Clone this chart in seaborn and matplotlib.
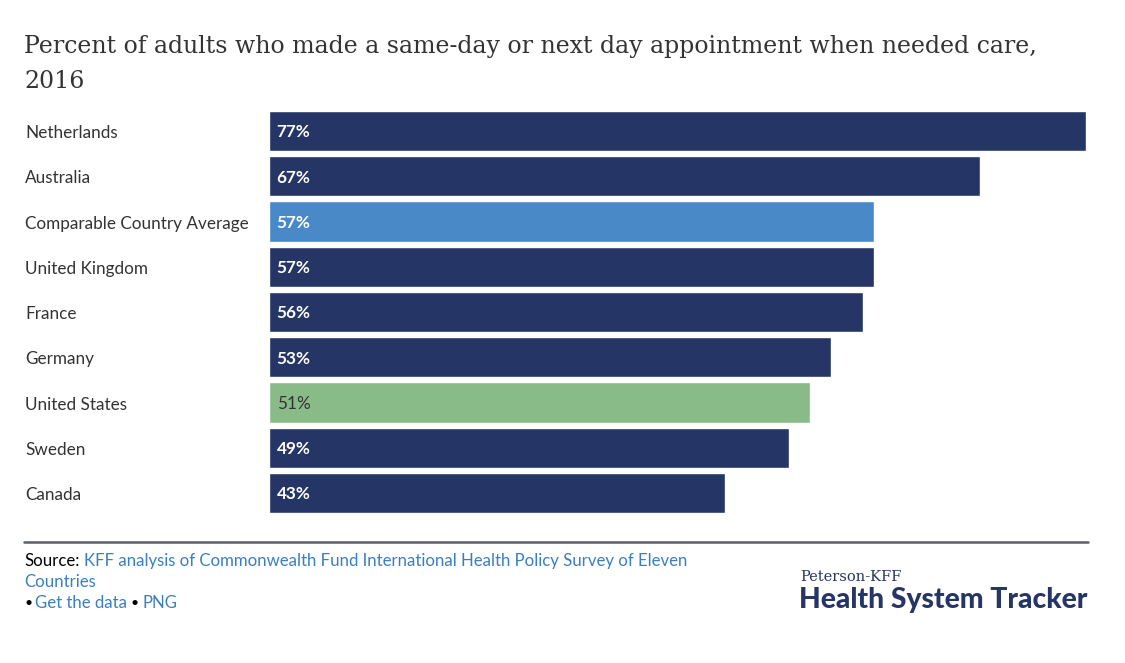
import seaborn as sns
import matplotlib.pyplot as plt
import pandas as pd

# data
countries = ["Netherlands", "Australia", "Comparable Country Average", "United Kingdom",
             "France", "Germany", "United States", "Sweden", "Canada"]
values = [77, 67, 57, 57, 56, 53, 51, 49, 43]
navy = "#253565"
bar_colors = [navy, navy, "#4a89c8", navy, navy, navy, "#89bb88", navy, navy]
label_colors = ["white"] * 6 + ["#333333"] + ["white"] * 2

df = pd.DataFrame({"Country": countries, "Percent": values})

sns.set_style("white")
plt.rcParams["font.family"] = ["Lato", "DejaVu Sans"]

W, H = 1125, 663
fig = plt.figure(figsize=(W / 100, H / 100), dpi=100)
ax = fig.add_axes([269 / W, 1 - 515.6 / H, (1086 - 269) / W, (515.6 - 108.4) / H])

sns.barplot(data=df, x="Percent", y="Country", hue="Country", palette=bar_colors,
            legend=False, width=0.885, ax=ax, saturation=1)
ax.set_xlim(0, 77)
ax.set_ylim(8.5, -0.5)
ax.set_xlabel("")
ax.set_ylabel("")
ax.set_xticks([])
ax.set_yticks([])
for s in ax.spines.values():
    s.set_visible(False)

# value labels and category labels
for i, (c, v) in enumerate(zip(countries, values)):
    ax.text(0.72, i + 0.03, f"{v}%", color=label_colors[i], fontsize=12.3, va="center",
            ha="left", fontweight="bold" if label_colors[i] == "white" else "normal")
    fig.text(25 / W, 1 - (133 + i * 45.25) / H, c, fontsize=12.3, color="#333333",
             va="center", ha="left")

# title
title_kw = dict(fontsize=17, family="DejaVu Serif", color="#333333", va="center", ha="left")
fig.text(24 / W, 1 - 47 / H,
         "Percent of adults who made a same-day or next day appointment when needed care,",
         **title_kw)
fig.text(24 / W, 1 - 81 / H, "2016", **title_kw)

# separator line
fig.add_artist(plt.Line2D([24 / W, 1088 / W], [1 - 542 / H, 1 - 542 / H],
                          color="#5a5f6a", linewidth=1.8))

# source
blue = "#3a7fc1"
fs = 12.05
fig.text(24 / W, 1 - 561 / H, "Source:", fontsize=fs, color="black", va="center")
fig.text(84 / W, 1 - 561 / H,
         "KFF analysis of Commonwealth Fund International Health Policy Survey of Eleven",
         fontsize=fs, color=blue, va="center")
fig.text(24 / W, 1 - 582 / H, "Countries", fontsize=fs, color=blue, va="center")
fig.text(24 / W, 1 - 603 / H, "•", fontsize=10, color="black", va="center")
fig.text(35 / W, 1 - 603 / H, "Get the data", fontsize=fs, color=blue, va="center")
fig.text(131 / W, 1 - 603 / H, "•", fontsize=10, color="black", va="center")
fig.text(142 / W, 1 - 603 / H, "PNG", fontsize=fs, color=blue, va="center")

# logo text
fig.text(800 / W, 1 - 577 / H, "Peterson-KFF", fontsize=10.5, family="DejaVu Serif",
         color=navy, va="center")
fig.text(799 / W, 1 - 600 / H, "Health System Tracker", fontsize=20.3, fontweight="black",
         color=navy, va="center")

plt.savefig("out.png", dpi=100)
plt.close()
